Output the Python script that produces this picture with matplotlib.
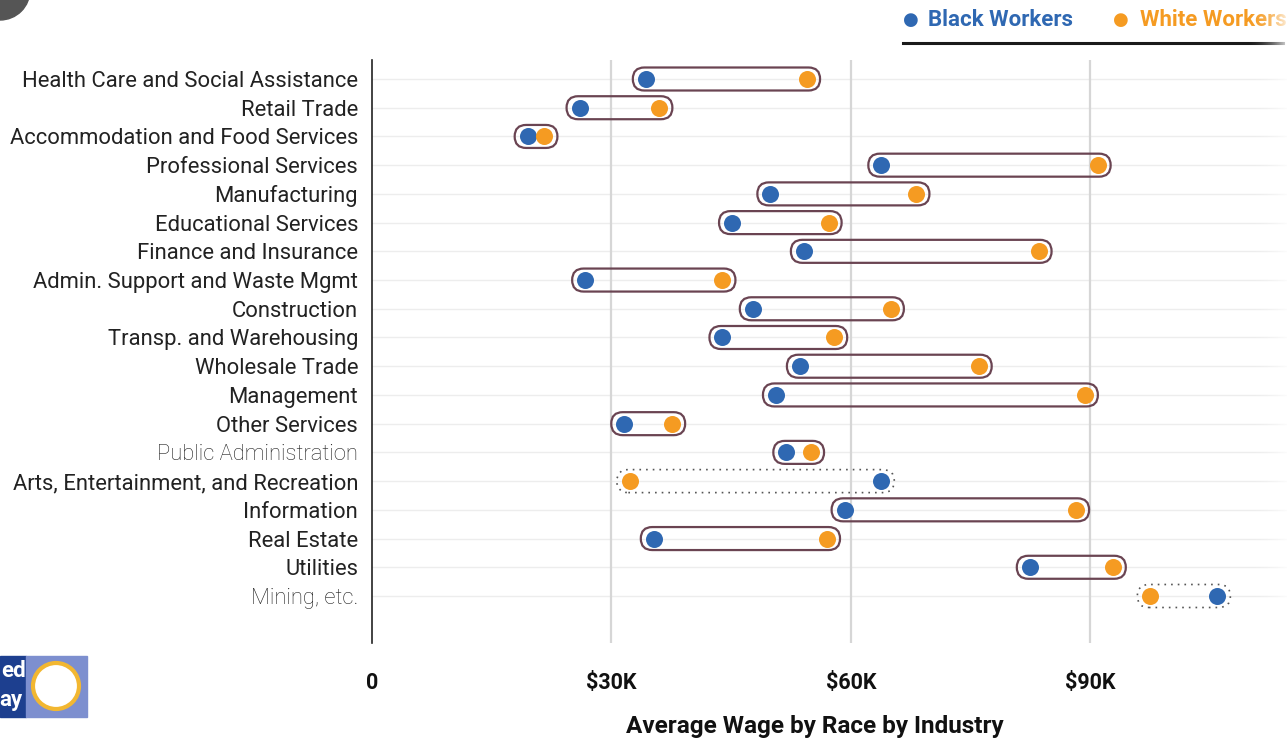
import matplotlib
matplotlib.use("Agg")
import matplotlib.pyplot as plt
import numpy as np
from matplotlib.patches import FancyBboxPatch, Rectangle, Circle
from matplotlib.transforms import IdentityTransform

plt.rcParams["font.family"] = ["Roboto", "DejaVu Sans"]

industries = [
    "Health Care and Social Assistance",
    "Retail Trade",
    "Accommodation and Food Services",
    "Professional Services",
    "Manufacturing",
    "Educational Services",
    "Finance and Insurance",
    "Admin. Support and Waste Mgmt",
    "Construction",
    "Transp. and Warehousing",
    "Wholesale Trade",
    "Management",
    "Other Services",
    "Public Administration",
    "Arts, Entertainment, and Recreation",
    "Information",
    "Real Estate",
    "Utilities",
    "Mining, etc.",
]
# average wage, thousands of dollars
black_wage = [34.3, 26.0, 19.5, 63.8, 49.9, 45.1, 54.1, 26.7, 47.7, 43.9,
              53.6, 50.6, 31.6, 51.9, 63.8, 59.2, 35.3, 82.4, 105.9]
white_wage = [54.5, 36.0, 21.6, 90.9, 68.2, 57.2, 83.5, 43.9, 65.0, 57.9,
              76.0, 89.3, 37.6, 55.0, 32.3, 88.2, 57.0, 92.8, 97.5]
light_labels = ["Public Administration", "Mining, etc."]
tick_vals = [0, 30, 60, 90]
tick_text = ["0", "$30K", "$60K", "$90K"]

BLUE = "#2f68b2"
ORANGE = "#f59b22"
OUTLINE = "#6a4452"

W, H = 1287, 741
fig = plt.figure(figsize=(W / 100, H / 100), dpi=100)
ax = fig.add_axes([372 / W, 1 - 643 / H, (W - 372) / W, (643 - 60) / H])

n = len(industries)
ypos = np.arange(n)
ax.set_xlim(0, (W - 372) / 7.983)
ax.set_ylim(n - 1 + 47 / 28.72, -19 / 28.72)

for s in ["top", "right", "bottom"]:
    ax.spines[s].set_visible(False)
ax.spines["left"].set_color("#222222")
ax.spines["left"].set_linewidth(1.2)

for y in ypos:
    ax.axhline(y, color="#ededed", lw=1.0, zorder=0)
for v in tick_vals[1:]:
    ax.axvline(v, color="#d6d6d6", lw=1.6, zorder=0)

ax.set_yticks(ypos)
ax.set_yticklabels(industries, fontsize=15.8, color="#222222")
for lab in ax.get_yticklabels():
    if lab.get_text() in light_labels:
        lab.set_fontweight("light")
        lab.set_color("#1e1e1e")
ax.set_xticks(tick_vals)
ax.set_xticklabels(tick_text, fontsize=15.5, fontweight="bold", color="#111111")
ax.tick_params(axis="both", length=0)
ax.tick_params(axis="x", pad=21)
ax.tick_params(axis="y", pad=10)

# capsule outlines, drawn in pixels so the ends stay round
tr = ax.transData
cap_h = 23
margin = 13
for i in range(n):
    lo = min(black_wage[i], white_wage[i])
    hi = max(black_wage[i], white_wage[i])
    (x0, yc) = tr.transform((lo, ypos[i]))
    (x1, _) = tr.transform((hi, ypos[i]))
    left = x0 - margin
    width = (x1 - x0) + 2 * margin
    if black_wage[i] <= white_wage[i]:
        ls, col, lw = "-", OUTLINE, 1.6
    else:
        ls, col, lw = (0, (1, 3)), "#555555", 1.2
    box = FancyBboxPatch((left, yc - cap_h / 2), width, cap_h,
                         boxstyle=f"round,pad=0,rounding_size={cap_h / 2}",
                         transform=IdentityTransform(), fill=False,
                         edgecolor=col, linewidth=lw, linestyle=ls, zorder=2)
    ax.add_patch(box)

ax.scatter(black_wage, ypos, s=150, color=BLUE, zorder=3, linewidths=0)
ax.scatter(white_wage, ypos, s=150, color=ORANGE, zorder=3, linewidths=0)

fig.text(815 / W, 1 - 727 / H, "Average Wage by Race by Industry",
         ha="center", va="center", fontsize=17.5, fontweight="bold", color="#111111")

# legend on top right
fig.text(903 / W, 1 - 20 / H, "●", ha="left", va="center", fontsize=13,
         color=BLUE, family=["DejaVu Sans"])
fig.text(928 / W, 1 - 20 / H, "Black Workers", ha="left", va="center",
         fontsize=16, fontweight="bold", color=BLUE)
fig.text(1113 / W, 1 - 20 / H, "●", ha="left", va="center", fontsize=13,
         color=ORANGE, family=["DejaVu Sans"])
fig.text(1140 / W, 1 - 20 / H, "White Workers", ha="left", va="center",
         fontsize=16, fontweight="bold", color=ORANGE)
fig.add_artist(plt.Line2D([903 / W, 1283 / W], [1 - 43 / H, 1 - 43 / H],
                          transform=fig.transFigure, color="#1a1a1a", lw=2.2))

# corner decorations (partial logo shapes), in pixels
px = IdentityTransform()
fig.add_artist(Circle((0, H + 10), 30, transform=px, color="#555555", zorder=5))
fig.add_artist(Rectangle((0, H - 717), 26, 61, transform=px, color="#1d3f8f", zorder=5))
fig.add_artist(Rectangle((26, H - 717), 61, 61, transform=px, color="#7d8fcf", zorder=5))
fig.text(1 / W, 1 - 671 / H, "ed", fontsize=16, fontweight="bold", color="white",
         ha="left", va="center", zorder=6)
fig.text(-1 / W, 1 - 700 / H, "ay", fontsize=16, fontweight="bold", color="white",
         ha="left", va="center", zorder=6)
fig.add_artist(Circle((56, H - 686), 23, transform=px,
                      facecolor="white", edgecolor="#f2b731", lw=3, zorder=6))

# white fade on the right edge
fade = fig.add_axes([1245 / W, 0, (W - 1245) / W, 1], zorder=10)
grad = np.zeros((2, 64, 4))
grad[..., :3] = 1.0
grad[..., 3] = np.linspace(0, 0.9, 64) ** 2
fade.imshow(grad, aspect="auto", extent=[0, 1, 0, 1])
fade.axis("off")

fig.savefig("out.png", dpi=100)
